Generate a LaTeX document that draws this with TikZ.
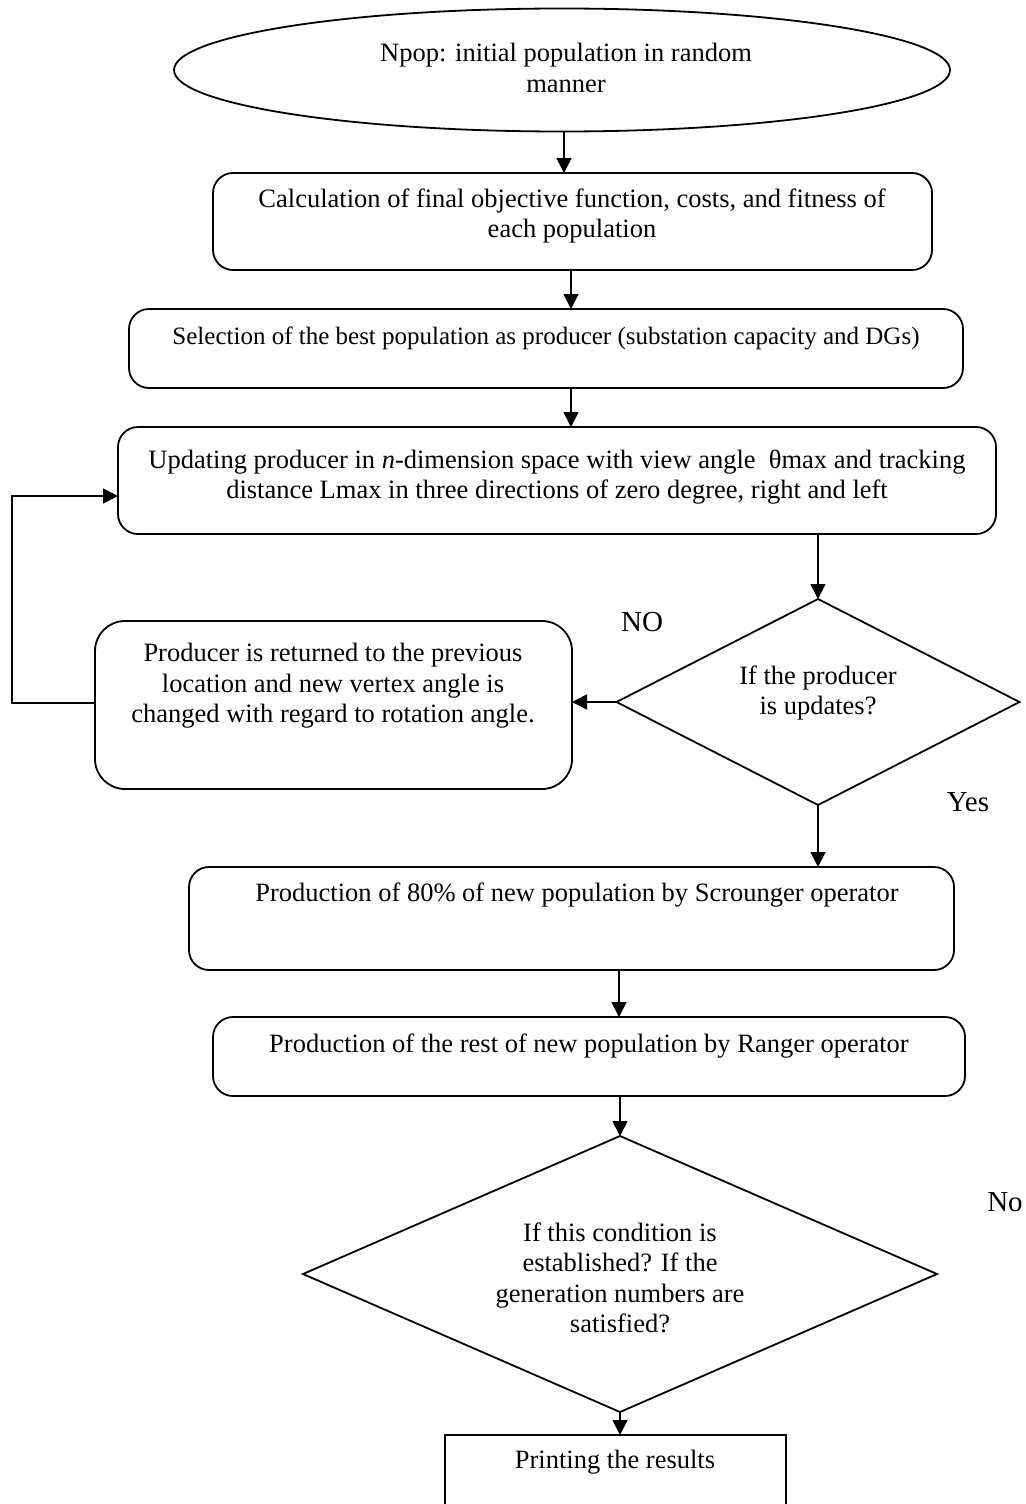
\documentclass[tikz,border=0pt]{standalone}
\usepackage{fontspec}
\setmainfont{Liberation Serif}
\usetikzlibrary{shapes.geometric,arrows.meta}
\tikzset{
  conn/.style={line width=1.8pt,-{Triangle[width=15pt,length=15pt]}},
  rbox/.style={draw,line width=1.8pt,rounded corners=20pt,inner sep=0pt,outer sep=0pt},
  sbox/.style={draw,line width=1.8pt,inner sep=0pt,outer sep=0pt},
  dbox/.style={draw,line width=1.8pt,diamond,inner sep=0pt,outer sep=0pt},
  ebox/.style={draw,line width=1.8pt,ellipse,inner sep=0pt,outer sep=0pt},
  txt/.style={align=center,inner sep=0pt,font=\fontsize{26.5}{30.5}\selectfont},
  lbl/.style={inner sep=0pt,font=\fontsize{29}{30}\selectfont}
}
\begin{document}
\begin{tikzpicture}[x=1pt,y=-1pt]
\useasboundingbox (0,0) rectangle (1025,1504);
\clip (0,0) rectangle (1025,1504);
% shapes
\node[ebox,minimum width=776,minimum height=123] (e) at (562,70) {};
\node[rbox,minimum width=719,minimum height=97] (b1) at (572.5,221.5) {};
\node[rbox,minimum width=834,minimum height=79] (b2) at (546,348.5) {};
\node[rbox,minimum width=878,minimum height=107] (b3) at (557,480.5) {};
\node[rbox,rounded corners=30pt,minimum width=477,minimum height=168] (b4) at (333.5,705) {};
\node[dbox,minimum width=403,minimum height=206] (d1) at (818,702) {};
\node[rbox,minimum width=765,minimum height=103] (b5) at (571.5,918.5) {};
\node[rbox,minimum width=752,minimum height=79] (b6) at (589,1056.5) {};
\node[dbox,minimum width=634,minimum height=276] (d2) at (620,1274) {};
\node[sbox,minimum width=341,minimum height=100] (b7) at (615.5,1485) {};
% texts
\node[txt] (et) at (566,68) {Npop: initial population in random\\manner};
\node[txt] (b1t) at (572,216) {Calculation of final objective function, costs, and fitness of\\each population};
\node[txt,font=\fontsize{25}{30.5}\selectfont] (b2t) at (546,338) {Selection of the best population as producer (substation capacity and DGs)};
\node[txt] (b3t) at (557,477) {Updating producer in \textit{n}-dimension space with view angle \ θmax and tracking\\distance Lmax in three directions of zero degree, right and left};
\node[txt] (b4t) at (333,686) {Producer is returned to the previous\\location and new vertex angle is\\changed with regard to rotation angle.};
\node[txt] (d1t) at (818,693) {If the producer\\is updates?};
\node[txt] (b5t) at (577,895) {Production of 80\% of new population by Scrounger operator};
\node[txt] (b6t) at (589,1046) {Production of the rest of new population by Ranger operator};
\node[txt] (d2t) at (620,1278) {If this condition is\\established? If the\\generation numbers are\\satisfied?};
\node[txt] (b7t) at (615,1462) {Printing the results};
\node[lbl] (no1) at (642,622) {NO};
\node[lbl] (yes) at (968,802) {Yes};
\node[lbl] (no2) at (1005,1202) {No};
% connectors
\draw[conn] (e.south -| 564,0) -- (b1.north -| 564,0);
\draw[conn] (b1.south -| 571,0) -- (b2.north -| 571,0);
\draw[conn] (b2.south -| 571,0) -- (b3.north -| 571,0);
\draw[conn] (b3.south -| d1.north) -- (d1.north);
\draw[conn] (d1.west) -- (b4.east |- d1.west);
\draw[conn] (d1.south) -- (b5.north -| d1.south);
\draw[conn] (b5.south -| 619,0) -- (b6.north -| 619,0);
\draw[conn] (b6.south -| d2.north) -- (d2.north);
\draw[conn] (d2.south) -- (b7.north -| d2.south);
\coordinate (lb) at (12,703);
\coordinate (lt) at (12,496);
\draw[conn] (b4.west |- lb) -- (lb) -- (lt) -- (b3.west |- lt);
\end{tikzpicture}
\end{document}
